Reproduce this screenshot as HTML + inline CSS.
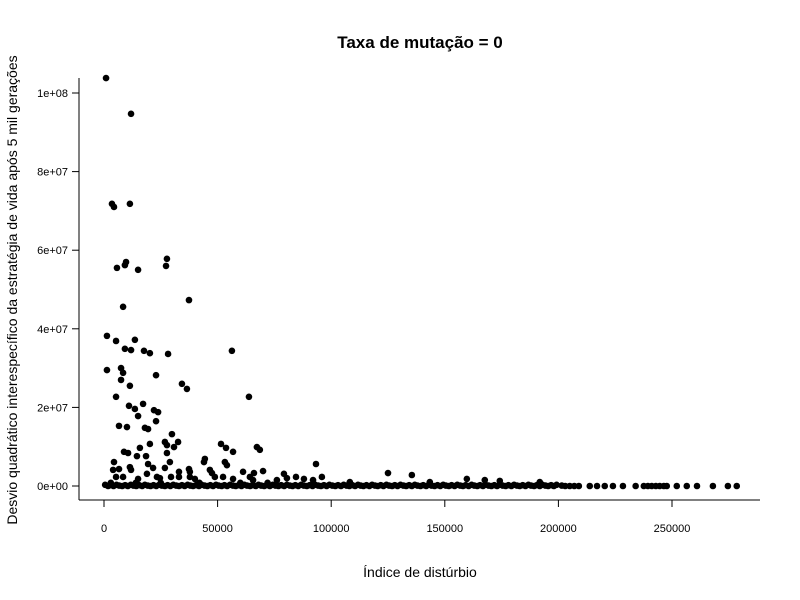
<!DOCTYPE html>
<html><head><meta charset="utf-8"><style>
body{margin:0;background:#fff}
svg{display:block;font-family:"Liberation Sans",Arial,sans-serif}
</style></head><body>
<svg id="chart" width="800" height="600" viewBox="0 0 800 600">
<text x="420" y="48" text-anchor="middle" font-size="17" font-weight="bold">Taxa de mutação = 0</text>
<text x="420" y="577" text-anchor="middle" font-size="14">Índice de distúrbio</text>
<text transform="translate(17,290) rotate(-90)" text-anchor="middle" font-size="14">Desvio quadrático interespecífico da estratégia de vida após 5 mil gerações</text>
<line x1="79" y1="78" x2="79" y2="500" stroke="#000"/>
<line x1="79" y1="500" x2="760" y2="500" stroke="#000"/>
<g id="ticks"></g>
<g id="points"></g>
</svg>
<script>
const xTickValues=[0,50000,100000,150000,200000,250000];
const xTickLabels=["0","50000","100000","150000","200000","250000"];
const yTickValues=[0,2e7,4e7,6e7,8e7,1e8];
const yTickLabels=["0e+00","2e+07","4e+07","6e+07","8e+07","1e+08"];
// scattered points: x in thousands, y in millions
const xThousands=[0.9,11.9,3.5,4.4,11.4,9.7,9.2,5.7,15.0,27.7,27.3,37.4,8.4,1.3,13.6,5.3,9.2,11.9,17.6,20.2,28.2,56.3,1.3,7.5,8.4,7.5,22.9,11.4,34.3,36.5,5.3,63.8,11.0,13.6,17.2,15.0,22.0,23.8,22.9,6.6,10.1,18.0,19.4,29.9,26.8,32.6,27.7,20.2,30.8,8.8,10.6,15.8,27.7,14.5,18.5,51.5,53.7,56.8,67.3,68.6,44.4,44.0,4.4,53.2,54.1,11.4,19.4,29.0,26.8,4.0,6.6,11.9,21.6,33.0,37.4,37.8,46.6,47.5,61.2,66.0,70.0,93.3,18.9,23.3,24.6,8.4,5.3,15.0,29.5,33.0,37.8,48.8,52.4,56.8,64.2,79.2,80.5,84.5,88.0,92.0,95.9,76.1,40.0,65.6,125.0,135.5,159.7,167.6,174.2,191.8,108.2,143.4,3.0,14.0,25.0,42.0,60.0,72.0];
const yMillions=[103.8,94.7,71.8,71.0,71.8,57.0,56.2,55.5,55.0,57.8,56.0,47.3,45.6,38.2,37.2,36.9,34.9,34.6,34.4,33.8,33.6,34.4,29.5,30.0,28.8,27.0,28.2,25.5,26.0,24.7,22.7,22.7,20.4,19.6,20.9,17.8,19.3,18.8,16.5,15.3,15.0,14.8,14.5,13.2,11.2,11.2,10.4,10.7,9.9,8.7,8.4,9.7,8.4,7.6,7.6,10.7,9.7,8.7,9.9,9.2,6.9,6.1,6.1,6.1,5.3,4.8,5.6,6.1,4.6,4.1,4.3,4.1,4.6,3.6,4.3,3.6,4.1,3.3,3.6,3.3,3.8,5.6,3.1,2.3,2.0,2.3,2.3,1.8,2.3,2.3,2.3,2.3,2.3,1.8,2.3,3.1,2.0,2.3,1.8,1.5,2.3,1.5,1.8,1.5,3.3,2.8,1.8,1.5,1.3,1.0,1.0,1.0,0.8,0.8,0.8,0.8,0.8,0.8];
// points at (near) zero: x in thousands
const zeroXThousands=[0.5,1.8,3.0,4.2,5.5,6.7,8.0,9.3,10.5,11.8,13.0,14.2,15.5,16.8,18.0,19.3,20.5,21.8,23.0,24.3,25.5,26.8,28.0,29.2,30.5,31.8,33.0,34.3,35.5,36.8,38.0,39.2,40.5,41.8,43.0,44.3,45.5,46.8,48.0,49.3,50.5,51.8,53.0,54.2,55.5,56.8,58.0,59.3,60.5,61.8,63.0,64.3,65.5,66.8,68.0,69.2,70.5,71.8,73.0,74.3,75.5,76.8,78.0,79.3,80.5,81.8,83.0,84.2,85.5,86.8,88.0,89.3,90.5,91.8,93.0,94.3,95.5,96.8,98.0,99.2,100.5,101.8,103.0,104.3,105.5,106.8,108.0,109.3,110.5,111.8,113.0,114.2,115.5,116.8,118.0,119.3,120.5,121.8,123.0,124.3,125.5,126.8,128.0,129.2,130.5,131.8,133.0,134.3,135.5,136.8,138.0,139.3,140.5,141.8,143.0,144.2,145.5,146.8,148.0,149.3,150.5,151.8,153.0,154.3,155.5,156.8,158.0,159.2,160.5,161.8,163.0,164.3,165.5,166.8,168.0,169.3,170.5,171.8,173.0,174.2,175.5,176.8,178.0,179.3,180.5,181.8,183.0,184.3,185.5,186.8,188.0,189.3,190.5,191.8,193.0,194.3,195.5,196.8,198.0,199.2,201.5,203.0,205.0,207.0,209.0,213.8,217.0,220.4,224.0,228.4,234.0,237.6,239.4,241.1,242.9,244.6,246.4,247.7,252.1,256.5,261.0,268.0,274.6,278.5];
const zeroYMillions=[0.3,0.0,0.2,0.0,0.3,0.1,0.0,0.2,0.0,0.3,0.1,0.0,0.2,0.0,0.3,0.1,0.0,0.2,0.0,0.3,0.1,0.0,0.2,0.0,0.3,0.1,0.0,0.2,0.0,0.3,0.1,0.0,0.2,0.0,0.3,0.1,0.0,0.2,0.0,0.3,0.1,0.0,0.2,0.0,0.3,0.1,0.0,0.2,0.0,0.3,0.1,0.0,0.2,0.0,0.3,0.1,0.0,0.2,0.0,0.3,0.1,0.0,0.2,0.0,0.3,0.1,0.0,0.2,0.0,0.3,0.1,0.0,0.2,0.0,0.3,0.1,0.0,0.2,0.0,0.3,0.1,0.0,0.2,0.0,0.3,0.1,0.0,0.2,0.0,0.3,0.1,0.0,0.2,0.0,0.3,0.1,0.0,0.2,0.0,0.3,0.1,0.0,0.2,0.0,0.3,0.1,0.0,0.2,0.0,0.3,0.1,0.0,0.2,0.0,0.3,0.1,0.0,0.2,0.0,0.3,0.1,0.0,0.2,0.0,0.3,0.1,0.0,0.2,0.0,0.3,0.1,0.0,0.2,0.0,0.3,0.1,0.0,0.2,0.0,0.3,0.1,0.0,0.2,0.0,0.3,0.1,0.0,0.2,0.0,0.3,0.1,0.0,0.2,0.0,0.3,0.1,0.0,0.2,0.0,0.3,0.1,0.0,0,0,0,0,0,0,0,0,0,0,0,0,0,0,0,0,0,0,0,0,0,0,0,0,0];

const NS="http://www.w3.org/2000/svg";
function xScale(v){return 104+v*(568/250000);}
function yScale(v){return 486-v*(393/1e8);}
const tg=document.getElementById('ticks');
xTickValues.forEach((v,i)=>{
  const l=document.createElementNS(NS,'line');
  
  
  l.setAttribute('x1',xScale(v));l.setAttribute('x2',xScale(v));
  l.setAttribute('y1',500);l.setAttribute('y2',507);l.setAttribute('stroke','#000');
  tg.appendChild(l);
  const t=document.createElementNS(NS,'text');
  
  
  t.setAttribute('x',xScale(v));t.setAttribute('y',532);
  t.setAttribute('text-anchor','middle');t.setAttribute('font-size','11');
  t.textContent=xTickLabels[i];tg.appendChild(t);
});
yTickValues.forEach((v,i)=>{
  const l=document.createElementNS(NS,'line');
  
  
  l.setAttribute('x1',72);l.setAttribute('x2',79);
  l.setAttribute('y1',yScale(v));l.setAttribute('y2',yScale(v));l.setAttribute('stroke','#000');
  tg.appendChild(l);
  const t=document.createElementNS(NS,'text');
  
  
  t.setAttribute('x',68);t.setAttribute('y',yScale(v)+4);
  t.setAttribute('text-anchor','end');t.setAttribute('font-size','11');
  t.textContent=yTickLabels[i];tg.appendChild(t);
});
const pg=document.getElementById('points');
function dot(xk,ym){
  const c=document.createElementNS(NS,'circle');
  
  
  c.setAttribute('cx',xScale(xk*1000));c.setAttribute('cy',yScale(ym*1e6));
  c.setAttribute('r',3.3);c.setAttribute('fill','#000');
  pg.appendChild(c);
}
zeroXThousands.forEach((x,i)=>dot(x,zeroYMillions[i]));
xThousands.forEach((x,i)=>dot(x,yMillions[i]));
</script>
</body></html>
